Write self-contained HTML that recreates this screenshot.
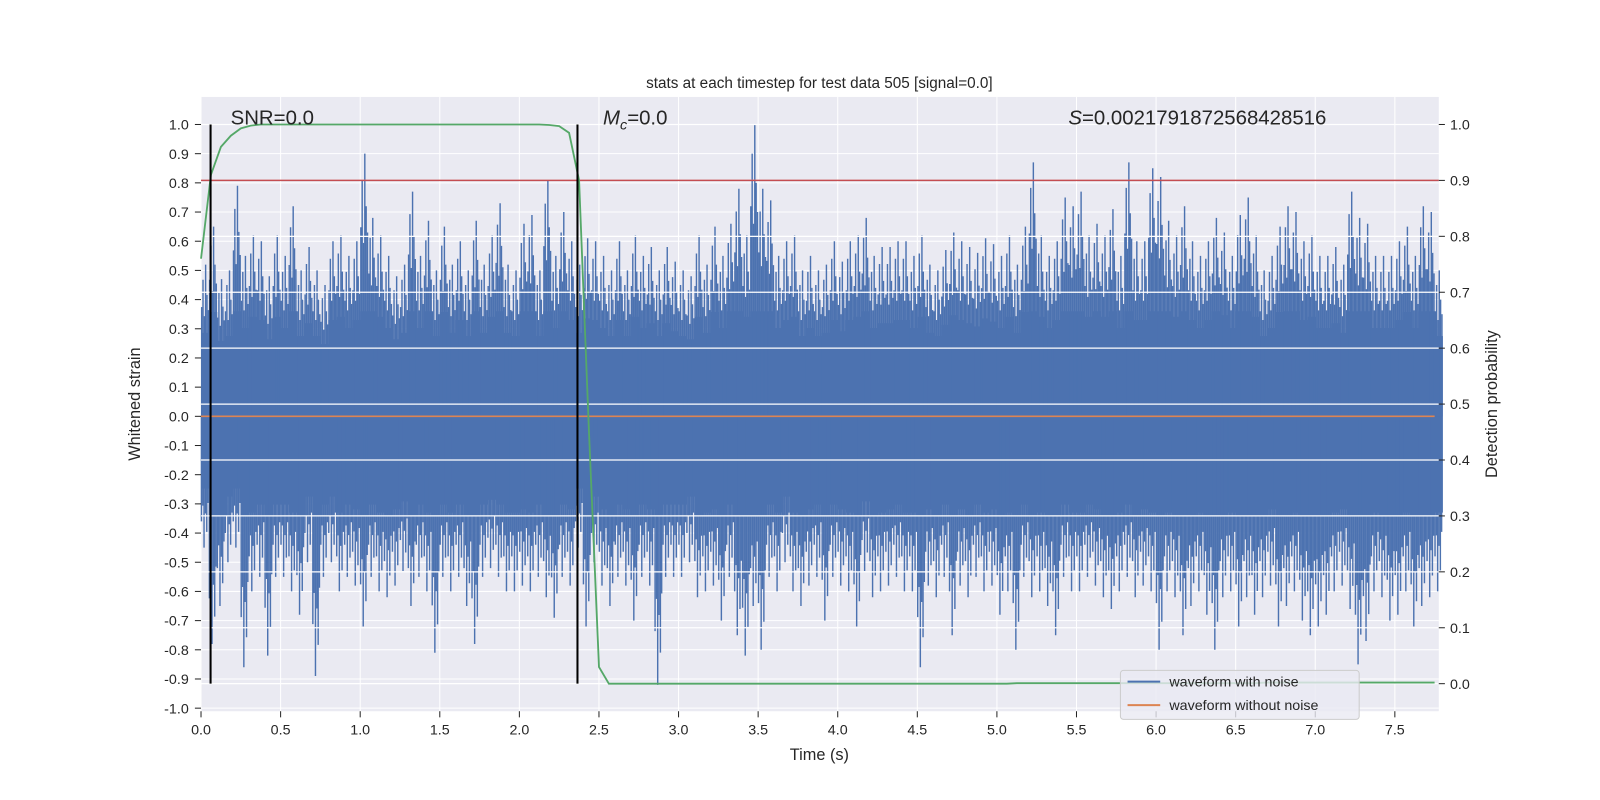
<!DOCTYPE html>
<html><head><meta charset="utf-8"><style>
html,body{margin:0;padding:0;background:#fff;width:1600px;height:800px;overflow:hidden;}
svg{display:block;font-family:"Liberation Sans","DejaVu Sans",sans-serif;}
</style></head><body>
<svg id="chart" width="1600" height="800" viewBox="0 0 1568 784" preserveAspectRatio="none">
<rect x="0" y="0" width="1600" height="800" fill="#fff"/>
<rect x="197" y="95" width="1213" height="602" fill="#EAEAF2"/>
<g id="leftgrid"></g><g id="vgrid"></g><g id="blue"></g><g id="orange"></g>
<g id="rightgrid"></g><g id="red"></g><g id="green"></g><g id="black"></g>
<g id="lticks"></g><g id="rticks"></g><g id="xticks"></g>
<text x="803" y="86" text-anchor="middle" font-size="15" fill="#262626">stats at each timestep for test data 505 [signal=0.0]</text>
<text x="803" y="745" text-anchor="middle" font-size="16" fill="#262626">Time (s)</text>
<text transform="translate(137,396) rotate(-90)" text-anchor="middle" font-size="16" fill="#262626">Whitened strain</text>
<text transform="translate(1467,396) rotate(-90)" text-anchor="middle" font-size="16" fill="#262626">Detection probability</text>
<text x="226" y="122" font-size="20" fill="#262626">SNR=0.0</text>
<text x="591" y="122" font-size="20" fill="#262626"><tspan font-style="italic">M</tspan><tspan font-style="italic" font-size="14" dy="5">c</tspan><tspan dy="-5">=0.0</tspan></text>
<text x="1047" y="122" font-size="20" fill="#262626"><tspan font-style="italic">S</tspan>=0.0021791872568428516</text>
<g>
<rect x="1098" y="657" width="234" height="48" rx="3" fill="#EAEAF2" fill-opacity="0.8" stroke="#cccccc" stroke-width="1"/>
<line x1="1105" y1="668" x2="1137" y2="668" stroke="#4C72B0" stroke-width="2"/>
<text x="1146" y="673" font-size="14" fill="#262626">waveform with noise</text>
<line x1="1105" y1="691" x2="1137" y2="691" stroke="#DD8452" stroke-width="2"/>
<text x="1146" y="696" font-size="14" fill="#262626">waveform without noise</text>
</g>
</svg>
<script>
const binWidth = 0.05;
const maxVals = [0.52,0.65,0.47,0.5,0.79,0.55,0.62,0.6,0.48,0.62,
0.55,0.72,0.5,0.58,0.5,0.45,0.6,0.62,0.55,0.6,
0.9,0.68,0.62,0.55,0.48,0.52,0.77,0.55,0.67,0.5,
0.65,0.52,0.6,0.5,0.67,0.52,0.62,0.73,0.52,0.5,
0.66,0.69,0.5,0.81,0.55,0.7,0.6,0.52,0.61,0.6,
0.55,0.5,0.6,0.5,0.62,0.55,0.58,0.5,0.58,0.53,
0.5,0.48,0.62,0.52,0.65,0.55,0.66,0.78,0.62,1.0,
0.78,0.74,0.55,0.6,0.62,0.5,0.55,0.5,0.52,0.6,
0.53,0.6,0.62,0.68,0.55,0.58,0.58,0.6,0.6,0.55,
0.62,0.52,0.5,0.57,0.63,0.6,0.58,0.56,0.61,0.59,
0.55,0.62,0.52,0.65,0.87,0.62,0.55,0.6,0.75,0.72,
0.77,0.62,0.66,0.62,0.71,0.55,0.87,0.6,0.6,0.85,
0.82,0.67,0.62,0.72,0.6,0.55,0.6,0.68,0.63,0.55,
0.69,0.75,0.62,0.5,0.55,0.65,0.72,0.7,0.6,0.62,
0.55,0.55,0.58,0.52,0.77,0.68,0.66,0.55,0.55,0.55,
0.6,0.65,0.55,0.72,0.7,0.5];
const minVals = [-0.45,-0.78,-0.65,-0.5,-0.45,-0.86,-0.6,-0.55,-0.82,-0.55,
-0.55,-0.6,-0.68,-0.5,-0.89,-0.55,-0.5,-0.6,-0.55,-0.58,
-0.72,-0.55,-0.6,-0.62,-0.58,-0.53,-0.65,-0.55,-0.6,-0.81,
-0.55,-0.6,-0.55,-0.65,-0.78,-0.55,-0.52,-0.55,-0.6,-0.6,
-0.58,-0.6,-0.55,-0.62,-0.69,-0.55,-0.58,-0.45,-0.72,-0.5,
-0.58,-0.65,-0.55,-0.58,-0.7,-0.55,-0.58,-0.92,-0.55,-0.55,
-0.55,-0.5,-0.62,-0.6,-0.58,-0.7,-0.55,-0.75,-0.82,-0.65,
-0.8,-0.55,-0.6,-0.5,-0.6,-0.65,-0.58,-0.55,-0.7,-0.55,
-0.58,-0.6,-0.72,-0.53,-0.62,-0.6,-0.58,-0.55,-0.6,-0.6,
-0.86,-0.58,-0.62,-0.55,-0.75,-0.58,-0.62,-0.55,-0.6,-0.58,
-0.68,-0.6,-0.8,-0.55,-0.62,-0.6,-0.65,-0.75,-0.55,-0.6,
-0.6,-0.55,-0.58,-0.62,-0.66,-0.6,-0.55,-0.62,-0.58,-0.6,
-0.8,-0.6,-0.62,-0.75,-0.65,-0.6,-0.68,-0.8,-0.62,-0.6,
-0.72,-0.62,-0.68,-0.62,-0.58,-0.72,-0.65,-0.6,-0.7,-0.75,
-0.72,-0.68,-0.6,-0.58,-0.66,-0.85,-0.77,-0.6,-0.62,-0.7,
-0.68,-0.6,-0.72,-0.65,-0.62,-0.6];
const probStep = 0.0625;
const probVals = [0.76,0.91,0.96,0.98,0.993,0.998,
1,1,1,1,1,1,1,1,1,1,1,1,1,1,1,1,1,1,1,1,1,1,1,1,1,1,1,1,1,
0.999,0.997,0.985,0.90,0.45,0.03,0.0,
0,0,0,0,0,0,0,0,0,0,0,0,0,0,0,0,0,0,0,0,0,0,0,0,0,0,0,0,0,0,0,0,0,0,0,0,0,0,0,0,
0.001,0.001,0.001,0.001,0.001,0.001,0.001,0.001,0.001,0.001,0.001,0.001,0.001,0.001,0.001,0.001,0.001,0.001,0.001,0.001,0.001,0.001,0.001,0.001,0.001,
0.002,0.002,0.002,0.002,0.002,0.002,0.002,0.002,0.002,0.002,0.002,0.002,0.002,0.002,0.002,0.002,0.002,0.002];
const thresholdProb = 0.9;
const markerTimes = [0.06, 2.365];
const xTickLabels = ["0.0","0.5","1.0","1.5","2.0","2.5","3.0","3.5","4.0","4.5","5.0","5.5","6.0","6.5","7.0","7.5"];
const leftTickLabels = ["-1.0","-0.9","-0.8","-0.7","-0.6","-0.5","-0.4","-0.3","-0.2","-0.1","0.0","0.1","0.2","0.3","0.4","0.5","0.6","0.7","0.8","0.9","1.0"];
const rightTickLabels = ["0.0","0.1","0.2","0.3","0.4","0.5","0.6","0.7","0.8","0.9","1.0"];

const NS="http://www.w3.org/2000/svg";
const X0=197,X1=1410,T0=0,T1=7.776;
const xs=t=>X0+(t-T0)/(T1-T0)*(X1-X0);
const yl=v=>408-v*286;
const yr=p=>670-p*548;
function mk(tag,attrs,parent){const e=document.createElementNS(NS,tag);for(const k in attrs)e.setAttribute(k,attrs[k]);document.getElementById(parent).appendChild(e);return e;}

leftTickLabels.forEach(s=>{const v=parseFloat(s),y=yl(v);
 let g=mk('line',{x1:X0,x2:X1,y1:y,y2:y,stroke:'#fff','stroke-width':1},'leftgrid');
 
 
 let t=mk('line',{x1:191,x2:197,y1:y,y2:y,stroke:'#262626','stroke-width':1},'lticks');
 
 
 let l=mk('text',{x:185,y:y+5,'text-anchor':'end','font-size':14,fill:'#262626'},'lticks');l.textContent=s;
 
 
});
xTickLabels.forEach(s=>{const x=xs(parseFloat(s));
 let g=mk('line',{x1:x,x2:x,y1:95,y2:697,stroke:'#fff','stroke-width':1},'vgrid');
 
 
 let t=mk('line',{x1:x,x2:x,y1:697,y2:703,stroke:'#262626','stroke-width':1},'xticks');
 
 
 let l=mk('text',{x:x,y:720,'text-anchor':'middle','font-size':14,fill:'#262626'},'xticks');l.textContent=s;
 
 
});
const bw=xs(binWidth)-xs(0);
const upF=[[0.08,0.72],[0.25,0.9],[0.42,0.66],[0.58,1],[0.75,0.8],[0.92,0.7]];
const dnF=[[0.05,0.8],[0.22,0.68],[0.38,1],[0.55,0.74],[0.72,0.88],[0.88,0.66]];
maxVals.forEach((mx,i)=>{const mn=minVals[i];const x=xs(i*binWidth);
 const top=Math.min(mx*0.55,0.36),bot=Math.max(mn*0.55,-0.34);
 let r=mk('rect',{x:x,y:yl(top),width:bw+0.3,height:yl(bot)-yl(top),fill:'#4C72B0'},'blue');
 
 
 upF.forEach(([f,k])=>{
   const up=mk('line',{x1:x+f*bw,x2:x+f*bw,y1:yl(0),y2:yl(mx*k),stroke:'#4C72B0','stroke-width':1.4},'blue');
   
   
 });
 dnF.forEach(([f,k])=>{
   const dn=mk('line',{x1:x+f*bw,x2:x+f*bw,y1:yl(0),y2:yl(mn*k),stroke:'#4C72B0','stroke-width':1.4},'blue');
   
   
 });
});
let o=mk('line',{x1:X0,x2:xs(7.75),y1:yl(0),y2:yl(0),stroke:'#DD8452','stroke-width':1.5},'orange');


rightTickLabels.forEach(s=>{const p=parseFloat(s),y=yr(p);
 let g=mk('line',{x1:X0,x2:X1,y1:y,y2:y,stroke:'#fff','stroke-width':1.2},'rightgrid');
 
 
 let t=mk('line',{x1:1410,x2:1416,y1:y,y2:y,stroke:'#262626','stroke-width':1},'rticks');
 
 
 let l=mk('text',{x:1421,y:y+5,'font-size':14,fill:'#262626'},'rticks');l.textContent=s;
 
 
});
let rl=mk('line',{x1:X0,x2:X1,y1:yr(thresholdProb),y2:yr(thresholdProb),stroke:'#C44E52','stroke-width':1.5},'red');


const pts=probVals.map((p,i)=>xs(i*probStep).toFixed(1)+','+yr(p).toFixed(1)).join(' ');
let gl=mk('polyline',{points:pts,fill:'none',stroke:'#55A868','stroke-width':1.8},'green');


markerTimes.forEach(t=>{
 let b=mk('line',{x1:xs(t),x2:xs(t),y1:yr(1),y2:yr(0),stroke:'#000','stroke-width':2},'black');
 
 
});
</script>
</body></html>
